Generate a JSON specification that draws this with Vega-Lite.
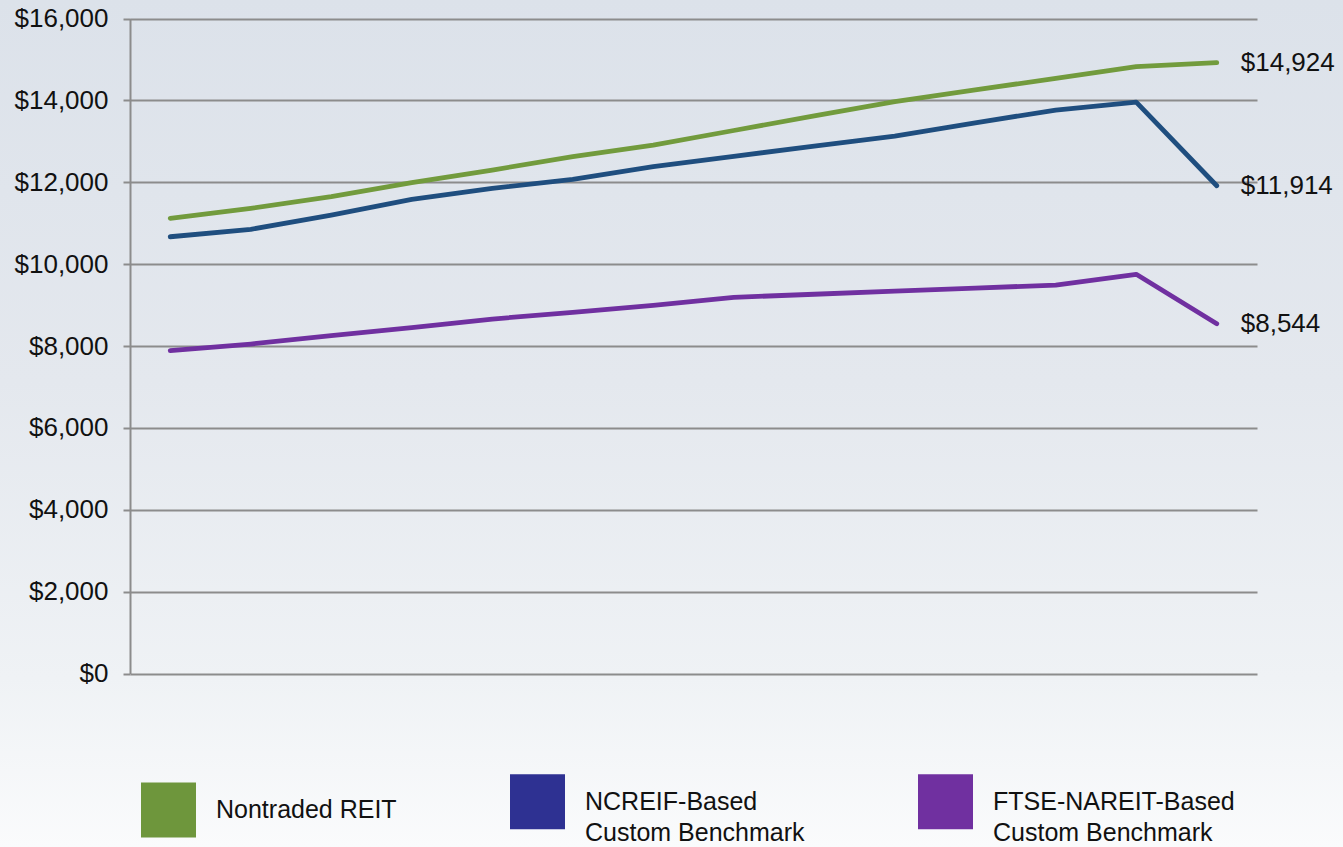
{
  "$schema": "https://vega.github.io/schema/vega-lite/v6.json",
  "width": 1343,
  "height": 847,
  "autosize": {"type": "none"},
  "padding": 0,
  "background": "#f4f6f8",
  "config": {
    "view": {"stroke": null, "fill": {"gradient": "linear", "x1": 0, "y1": 0, "x2": 0, "y2": 1, "stops": [{"offset": 0, "color": "#dce2ea"}, {"offset": 0.45, "color": "#e4e8ee"}, {"offset": 0.8, "color": "#eff2f5"}, {"offset": 1, "color": "#fafbfc"}]}},
    "font": "Liberation Sans",
    "axis": {"labelFont": "Liberation Sans", "labelFontSize": 26, "labelColor": "#111111"},
    "legend": {"labelFont": "Liberation Sans", "labelFontSize": 25, "labelColor": "#111111"}
  },
  "data": {
    "values": [
      {"series": "Nontraded REIT", "period": 0, "value": 11119},
      {"series": "Nontraded REIT", "period": 1, "value": 11363},
      {"series": "Nontraded REIT", "period": 2, "value": 11647},
      {"series": "Nontraded REIT", "period": 3, "value": 11989},
      {"series": "Nontraded REIT", "period": 4, "value": 12298},
      {"series": "Nontraded REIT", "period": 5, "value": 12624},
      {"series": "Nontraded REIT", "period": 6, "value": 12909},
      {"series": "Nontraded REIT", "period": 7, "value": 13264},
      {"series": "Nontraded REIT", "period": 8, "value": 13620},
      {"series": "Nontraded REIT", "period": 9, "value": 13967},
      {"series": "Nontraded REIT", "period": 10, "value": 14256},
      {"series": "Nontraded REIT", "period": 11, "value": 14538},
      {"series": "Nontraded REIT", "period": 12, "value": 14822},
      {"series": "Nontraded REIT", "period": 13, "value": 14924},
      {"series": "NCREIF-Based Custom Benchmark", "period": 0, "value": 10669},
      {"series": "NCREIF-Based Custom Benchmark", "period": 1, "value": 10850},
      {"series": "NCREIF-Based Custom Benchmark", "period": 2, "value": 11199},
      {"series": "NCREIF-Based Custom Benchmark", "period": 3, "value": 11583},
      {"series": "NCREIF-Based Custom Benchmark", "period": 4, "value": 11851},
      {"series": "NCREIF-Based Custom Benchmark", "period": 5, "value": 12071},
      {"series": "NCREIF-Based Custom Benchmark", "period": 6, "value": 12380},
      {"series": "NCREIF-Based Custom Benchmark", "period": 7, "value": 12633},
      {"series": "NCREIF-Based Custom Benchmark", "period": 8, "value": 12884},
      {"series": "NCREIF-Based Custom Benchmark", "period": 9, "value": 13129},
      {"series": "NCREIF-Based Custom Benchmark", "period": 10, "value": 13452},
      {"series": "NCREIF-Based Custom Benchmark", "period": 11, "value": 13764},
      {"series": "NCREIF-Based Custom Benchmark", "period": 12, "value": 13959},
      {"series": "NCREIF-Based Custom Benchmark", "period": 13, "value": 11914},
      {"series": "FTSE-NAREIT-Based Custom Benchmark", "period": 0, "value": 7886},
      {"series": "FTSE-NAREIT-Based Custom Benchmark", "period": 1, "value": 8048},
      {"series": "FTSE-NAREIT-Based Custom Benchmark", "period": 2, "value": 8252},
      {"series": "FTSE-NAREIT-Based Custom Benchmark", "period": 3, "value": 8447},
      {"series": "FTSE-NAREIT-Based Custom Benchmark", "period": 4, "value": 8659},
      {"series": "FTSE-NAREIT-Based Custom Benchmark", "period": 5, "value": 8823},
      {"series": "FTSE-NAREIT-Based Custom Benchmark", "period": 6, "value": 8990},
      {"series": "FTSE-NAREIT-Based Custom Benchmark", "period": 7, "value": 9189},
      {"series": "FTSE-NAREIT-Based Custom Benchmark", "period": 8, "value": 9264},
      {"series": "FTSE-NAREIT-Based Custom Benchmark", "period": 9, "value": 9339},
      {"series": "FTSE-NAREIT-Based Custom Benchmark", "period": 10, "value": 9414},
      {"series": "FTSE-NAREIT-Based Custom Benchmark", "period": 11, "value": 9489},
      {"series": "FTSE-NAREIT-Based Custom Benchmark", "period": 12, "value": 9751},
      {"series": "FTSE-NAREIT-Based Custom Benchmark", "period": 13, "value": 8544}
    ]
  },
  "encoding": {
    "x": {"field": "period", "type": "ordinal", "scale": {"type": "point", "padding": 0.5, "range": [130, 1257]}, "axis": null},
    "y": {
      "field": "value", "type": "quantitative",
      "scale": {"domain": [0, 16000], "nice": false, "range": [673.5, 18.5]},
      "axis": {
        "title": null, "offset": -130, "values": [0, 2000, 4000, 6000, 8000, 10000, 12000, 14000, 16000],
        "format": "$,.0f", "grid": true, "gridColor": "#8c8c8c", "gridWidth": 2,
        "domainColor": "#8c8c8c", "domainWidth": 2, "tickColor": "#8c8c8c", "tickWidth": 2,
        "tickSize": 7, "labelPadding": 15
      }
    },
    "color": {
      "field": "series", "type": "nominal",
      "scale": {
        "domain": ["Nontraded REIT", "NCREIF-Based Custom Benchmark", "FTSE-NAREIT-Based Custom Benchmark"],
        "range": ["#729b3d", "#1f4e7f", "#7030a0"]
      },
      "legend": {
        "title": null, "orient": "none", "legendX": 141, "legendY": 774,
        "direction": "horizontal", "columns": 3, "columnPadding": 113,
        "symbolType": "square", "symbolSize": 3025, "symbolStrokeWidth": 0,
        "labelOffset": 20, "labelLimit": 400,
        "labelExpr": "datum.label == 'Nontraded REIT' ? datum.label : [replace(datum.label, ' Custom Benchmark', ''), 'Custom Benchmark']",
        "encode": {
          "symbols": {"update": {
            "fill": {"signal": "datum.value === 'Nontraded REIT' ? '#6e963c' : datum.value === 'NCREIF-Based Custom Benchmark' ? '#2e3192' : '#7030a0'"},
            "stroke": {"value": "transparent"},
            "opacity": {"value": 1}
          }},
          "labels": {"update": {"lineHeight": {"value": 31}}}
        }
      }
    }
  },
  "layer": [
    {"mark": {"type": "line", "strokeWidth": 4.8, "strokeCap": "round", "strokeJoin": "round"}},
    {
      "transform": [{"filter": "datum.period == 13"}],
      "mark": {"type": "text", "align": "left", "baseline": "middle", "dx": 24, "fontSize": 26, "font": "Liberation Sans", "color": "#111111"},
      "encoding": {
        "text": {"field": "value", "type": "quantitative", "format": "$,.0f"},
        "color": {"value": "#111111"}
      }
    }
  ]
}
